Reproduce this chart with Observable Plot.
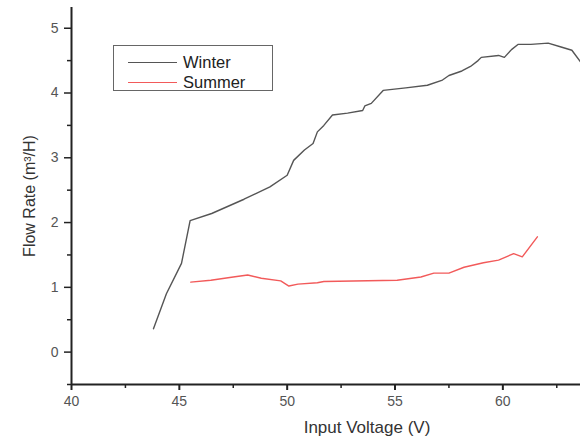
<!DOCTYPE html>
<html><head><meta charset="utf-8">
<script src="https://cdn.jsdelivr.net/npm/d3@7"></script>
<script src="https://cdn.jsdelivr.net/npm/@observablehq/plot@0.6"></script>
<style>
body{margin:0;background:#fff;font-family:"Liberation Sans",Arial,sans-serif;}
#wrap{position:relative;width:585px;height:445px;overflow:hidden;}
#legend{position:absolute;left:113px;top:45px;width:160px;height:46px;border:1px solid #666;background:#fff;box-sizing:border-box;font-size:16.5px;color:#222;}
#legend .row{position:absolute;left:0;height:20px;display:flex;align-items:center;}
#legend .sw{display:inline-block;width:49px;height:0;border-top:1.5px solid;margin-left:14px;margin-right:6px;}
</style></head>
<body><div id="wrap"><div id="legend"></div></div>
<script>
const winterVoltage = [43.8,44.4,45.1,45.5,46.5,48.0,49.2,50.0,50.3,50.8,51.2,51.4,51.7,52.1,52.8,53.5,53.6,53.9,54.45,55.5,56.5,57.2,57.5,58.1,58.5,58.85,59.0,59.8,60.07,60.4,60.7,61.3,62.1,62.7,63.2,63.6,63.8];
const winterFlow    = [0.36,0.9,1.37,2.03,2.14,2.36,2.55,2.73,2.96,3.12,3.22,3.4,3.5,3.66,3.69,3.73,3.8,3.84,4.04,4.08,4.12,4.2,4.27,4.34,4.41,4.5,4.55,4.58,4.55,4.67,4.75,4.75,4.77,4.71,4.66,4.48,4.42];
const summerVoltage = [45.53,46.46,47.5,48.17,48.8,49.7,50.08,50.5,51.4,51.7,55.1,56.2,56.8,57.5,58.2,59.1,59.8,60.5,60.9,61.6];
const summerFlow    = [1.08,1.11,1.16,1.19,1.14,1.1,1.02,1.05,1.07,1.09,1.11,1.16,1.22,1.22,1.31,1.38,1.42,1.52,1.47,1.78];
const seriesNames = ["Winter","Summer"];
const seriesColors = ["#555555","#f25a5a"];
const xTicks = [40,45,50,55,60];
const xMinor = [42.5,47.5,52.5,57.5,62.5];
const yTicks = [0,1,2,3,4,5];
const yMinor = [-0.5,0.5,1.5,2.5,3.5,4.5];

const winter = winterVoltage.map((v,i)=>({v, f: winterFlow[i]}));
const summer = summerVoltage.map((v,i)=>({v, f: summerFlow[i]}));
const xDom = [40, 63.6], yDom = [-0.5, 5.32];
const fmt = d3.format("d");

const chart = Plot.plot({
  width: 585, height: 445,
  marginLeft: 71, marginRight: 5, marginTop: 7, marginBottom: 61,
  style: {fontFamily: '"Liberation Sans", Arial, sans-serif', background: "transparent"},
  x: {domain: xDom},
  y: {domain: yDom},
  marks: [
    Plot.axisX({ticks: xTicks, tickFormat: fmt, tickSize: 6, tickPadding: 6, fontSize: 14, color: "#555", stroke: "#222", strokeWidth: 2, label: null}),
    Plot.axisX({ticks: xMinor, tickSize: 4, text: null, stroke: "#222", strokeWidth: 1.5, label: null}),
    Plot.axisY({ticks: yTicks, tickFormat: fmt, tickSize: 7, tickPadding: 6, fontSize: 14, color: "#555", stroke: "#222", strokeWidth: 1.5, label: "Flow Rate (m³/H)", labelAnchor: "center", labelOffset: 48, labelArrow: "none"}),
    Plot.axisY({ticks: yMinor, tickSize: 4, text: null, stroke: "#222", strokeWidth: 1.5, label: null}),
    Plot.ruleY([yDom[0]], {stroke: "#222", strokeWidth: 2}),
    Plot.ruleX([xDom[0]], {stroke: "#222", strokeWidth: 2}),
    Plot.line(winter, {x: "v", y: "f", stroke: seriesColors[0], strokeWidth: 1.4, clip: true}),
    Plot.line(summer, {x: "v", y: "f", stroke: seriesColors[1], strokeWidth: 1.4, clip: true}),
    Plot.text(["Input Voltage (V)"], {frameAnchor: "bottom", dx: 41, dy: 48, fontSize: 17, fill: "#333"})
  ]
});
chart.style.position = "absolute";
chart.style.left = "0"; chart.style.top = "0";
const wrap = document.getElementById("wrap");
wrap.insertBefore(chart, wrap.firstChild);
chart.querySelectorAll("text").forEach(t => {
  if (t.textContent.startsWith("Flow")) { t.setAttribute("font-size", "16"); t.setAttribute("fill", "#333"); }
});
const legend = document.getElementById("legend");
seriesNames.forEach((n,i)=>{
  const r = document.createElement("div");
  r.className = "row"; r.style.top = (6 + i*20) + "px";
  r.innerHTML = `<span class="sw" style="border-color:${seriesColors[i]}"></span><span>${n}</span>`;
  legend.appendChild(r);
});
</script></body></html>
